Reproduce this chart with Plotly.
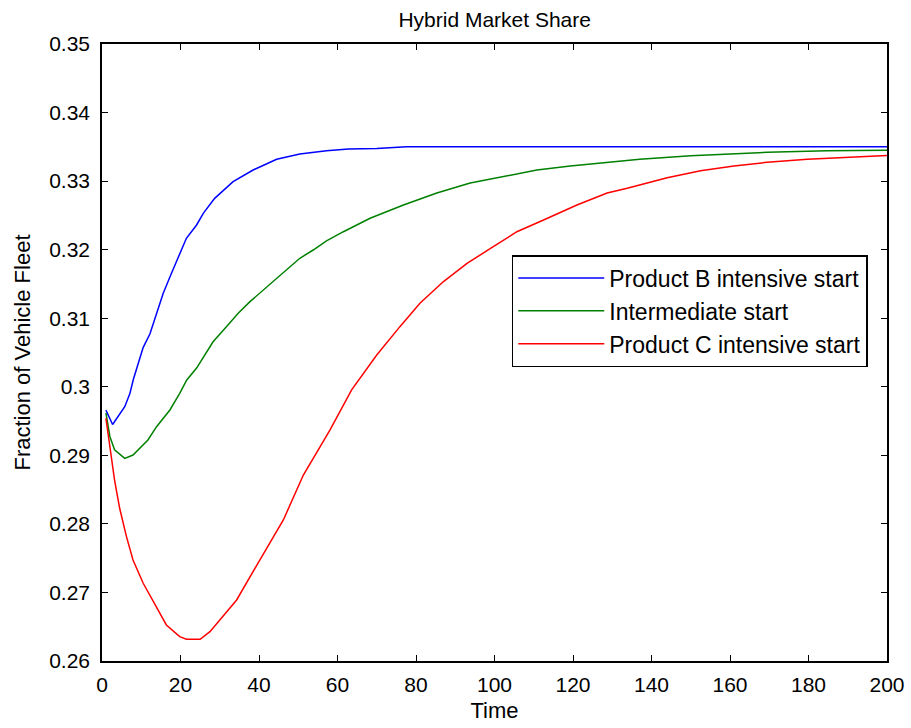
import plotly.graph_objects as go

# Product B intensive start
t_b = [1, 2.7, 5.8, 7.1, 8.0, 10.5, 12.2, 15.6, 17.7, 21.5, 24.1, 25.8, 28.7, 33.4, 38.5,
       44.5, 50.4, 57.2, 62.8, 70, 77.6, 90, 110, 130, 150, 170, 200]
v_b = [0.2966, 0.2945, 0.2971, 0.2990, 0.3011, 0.30575, 0.3077, 0.31364, 0.31656, 0.32166,
       0.3236, 0.3253, 0.32749, 0.32992, 0.33162, 0.33318, 0.33396, 0.33444, 0.33468,
       0.33475, 0.3350, 0.3350, 0.3350, 0.3350, 0.3350, 0.3350, 0.3350]

# Intermediate start
t_g = [1, 2, 3.2, 5.8, 7.9, 10, 11.7, 13.9, 17.3, 19.8, 21.6, 24.1, 28.3, 31.7, 34.7, 37.7,
       41.1, 45.8, 50.4, 53.8, 57.2, 61.5, 68.3, 76.8, 85.3, 93.8, 102.3, 110.8, 119.3,
       127.8, 137, 150, 159, 169.5, 184.8, 200]
v_g = [0.2962, 0.29275, 0.2908, 0.28956, 0.29004, 0.29126, 0.29224, 0.29418, 0.29662,
       0.29905, 0.30099, 0.30273, 0.30657, 0.30877, 0.31072, 0.31242, 0.31412, 0.31656,
       0.31874, 0.31995, 0.32127, 0.32262, 0.32458, 0.32652, 0.32826, 0.32971, 0.33064,
       0.33162, 0.3322, 0.33269, 0.33318, 0.3337, 0.33396, 0.3342, 0.33444, 0.3345]

# Product C intensive start
t_r = [1, 2, 3.2, 4.5, 6.2, 7.9, 10.5, 16.4, 19.8, 21.5, 25, 27.5, 34.3, 40.2, 46.2, 51.3,
       58.1, 63.6, 70, 75.9, 81, 87, 93, 99.7, 105.7, 112.5, 121, 128.7, 133.8, 144,
       152.5, 161, 169.5, 179.7, 188.2, 200]
v_r = [0.29541, 0.29126, 0.2864, 0.28228, 0.27822, 0.27474, 0.27134, 0.26526, 0.26355,
       0.26317, 0.26317, 0.26428, 0.2689, 0.27473, 0.28057, 0.28713, 0.2937, 0.29954,
       0.30464, 0.30877, 0.31218, 0.31535, 0.31801, 0.32044, 0.32262, 0.32433, 0.32652,
       0.32826, 0.32895, 0.3305, 0.33152, 0.3322, 0.33275, 0.33318, 0.33343, 0.33372]

names = ["Product B intensive start", "Intermediate start", "Product C intensive start"]
colors = ["#0000ff", "#008000", "#ff0000"]

x_ticks = list(range(0, 201, 20))
y_ticks = [0.26, 0.27, 0.28, 0.29, 0.30, 0.31, 0.32, 0.33, 0.34, 0.35]
y_labels = ["0.26", "0.27", "0.28", "0.29", "0.3", "0.31", "0.32", "0.33", "0.34", "0.35"]

fig = go.Figure()
for t, v, n, c in zip([t_b, t_g, t_r], [v_b, v_g, v_r], names, colors):
    fig.add_trace(go.Scatter(x=t, y=v, mode="lines", name=n,
                             line=dict(color=c, width=1.5)))

font = "Liberation Sans, Arial, sans-serif"
fig.update_layout(
    width=911, height=728,
    margin=dict(l=102, r=24, t=44, b=67),
    plot_bgcolor="white", paper_bgcolor="white",
    font=dict(family=font, size=21, color="black"),
    title=dict(text="Hybrid Market Share", x=0.543, xanchor="center",
               y=0.973, yanchor="middle", font=dict(size=21, color="black")),
    legend=dict(x=0.522, y=0.658, xanchor="left", yanchor="top",
                bgcolor="white", bordercolor="black", borderwidth=1.5,
                font=dict(size=23), tracegroupgap=0, itemwidth=86),
    showlegend=True,
)
fig.update_xaxes(range=[0, 200], tickvals=x_ticks, ticks="inside", ticklen=6,
                 tickcolor="black", showline=True, linecolor="black", linewidth=1.5,
                 mirror="ticks", showgrid=False, zeroline=False, automargin=False,
                 ticklabelstandoff=4,
                 title=dict(text="Time", standoff=8, font=dict(size=22)),
                 tickfont=dict(size=21))
fig.update_yaxes(range=[0.26, 0.35], tickvals=y_ticks, ticktext=y_labels,
                 ticks="inside", ticklen=6, tickcolor="black", showline=True,
                 linecolor="black", linewidth=1.5, mirror="ticks", showgrid=False,
                 zeroline=False, automargin=False, ticklabelstandoff=6,
                 title=dict(text="Fraction of Vehicle Fleet", standoff=12, font=dict(size=22)),
                 tickfont=dict(size=21))

fig.write_html("out.html")
